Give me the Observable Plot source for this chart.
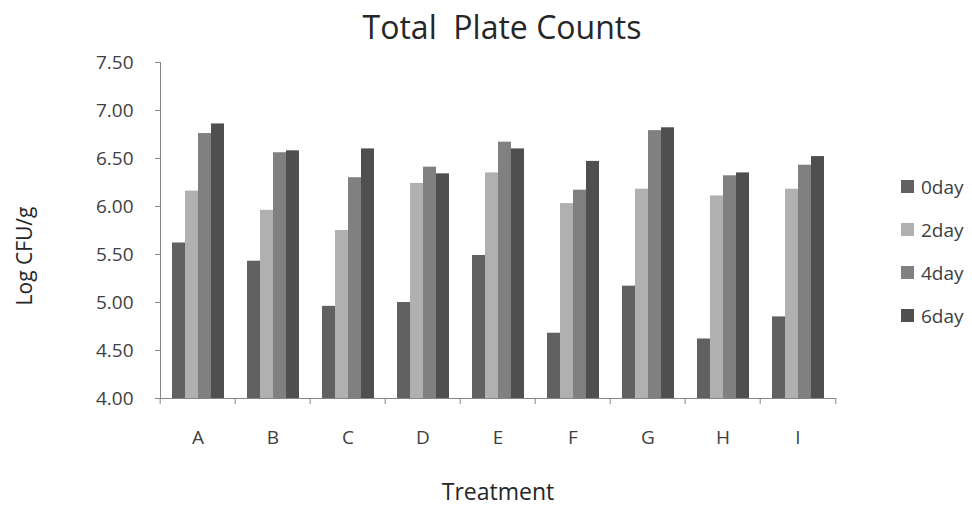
<!DOCTYPE html>
<html>
<head>
<meta charset="utf-8">
<script src="https://cdn.jsdelivr.net/npm/d3@7"></script>
<script src="https://cdn.jsdelivr.net/npm/@observablehq/plot@0.6"></script>
<style>
  html, body { margin: 0; padding: 0; background: #ffffff; }
  #chart { position: relative; width: 972px; height: 506px; font-family: "Open Sans", sans-serif; }
  #chart svg { position: absolute; left: 0; top: 0; }
  .title { position: absolute; left: 502px; top: 11px; transform: translateX(-50%); font-size: 32px; line-height: 32px; color: #262626; white-space: pre; }
  .xtitle { position: absolute; left: 498px; top: 480px; transform: translateX(-50%); font-size: 23px; line-height: 23px; color: #262626; white-space: pre; }
  .ytitle { position: absolute; left: 24px; top: 256px; transform: translate(-50%, -50%) rotate(-90deg); font-size: 21px; line-height: 21px; color: #262626; white-space: pre; }
  .legend { position: absolute; left: 901px; top: 165px; }
  .legend .row { display: flex; align-items: center; height: 43px; font-size: 19px; color: #404040; }
  .legend .swatch { width: 13px; height: 13px; margin-right: 7px; }
</style>
</head>
<body>
<div id="chart"></div>
<script>
// Treatments on the x axis and sampling days within each group
const treatments = ["A", "B", "C", "D", "E", "F", "G", "H", "I"];
const days = ["0day", "2day", "4day", "6day"];

// Log CFU/g per treatment, one list per sampling day
const day0 = [5.62, 5.43, 4.96, 5.00, 5.49, 4.68, 5.17, 4.62, 4.85];
const day2 = [6.16, 5.96, 5.75, 6.24, 6.35, 6.03, 6.18, 6.11, 6.18];
const day4 = [6.76, 6.56, 6.30, 6.41, 6.67, 6.17, 6.79, 6.32, 6.43];
const day6 = [6.86, 6.58, 6.60, 6.34, 6.60, 6.47, 6.82, 6.35, 6.52];

// Value axis ticks
const yTicks = [4.00, 4.50, 5.00, 5.50, 6.00, 6.50, 7.00, 7.50];

// Bar fills per day
const dayColors = ["#616161", "#b0b0b0", "#808080", "#4f4f4f"];

const series = [day0, day2, day4, day6];
const data = treatments.flatMap((t, i) =>
  days.map((d, j) => ({treatment: t, day: d, value: series[j][i]}))
);

const W = 972, H = 506;
const margin = {top: 62, right: 134, bottom: 108, left: 157};
const step = (W - margin.left - margin.right) / treatments.length;
const yBase = yTicks[0];
const axisColor = "#868686";
const textColor = "#404040";

const plot = Plot.plot({
  width: W,
  height: H,
  marginTop: margin.top,
  marginRight: margin.right,
  marginBottom: margin.bottom,
  marginLeft: margin.left,
  style: {fontFamily: "Open Sans, sans-serif", background: "transparent", overflow: "visible"},
  fx: {domain: treatments, padding: 0, label: null},
  x: {domain: days, paddingInner: 0, paddingOuter: 0.8, axis: null},
  y: {domain: [yTicks[0], yTicks[yTicks.length - 1]], label: null},
  color: {domain: days, range: dayColors},
  marks: [
    Plot.barY(data, {fx: "treatment", x: "day", y1: () => yBase, y2: "value", fill: "day"}),
    // category axis line and value axis line
    Plot.frame({anchor: "bottom", stroke: axisColor}),
    Plot.frame({anchor: "left", facetAnchor: "left", stroke: axisColor}),
    Plot.axisY({
      ticks: yTicks,
      tickFormat: d3.format(".2f"),
      tickSize: 5,
      tickPadding: 22,
      fontSize: 19,
      stroke: axisColor,
      fill: textColor,
      label: null
    }),
    // tick marks between the treatment groups
    Plot.axisFx({anchor: "bottom", tickSize: 6, tickFormat: () => "", dx: -step / 2, stroke: axisColor, label: null}),
    Plot.axisFx({anchor: "bottom", ticks: treatments.slice(-1), tickSize: 6, tickFormat: () => "", dx: step / 2, stroke: axisColor, label: null}),
    // treatment names
    Plot.axisFx({anchor: "bottom", tickSize: 0, tickPadding: 32, fontSize: 19, fill: textColor, label: null})
  ]
});

const chart = d3.select("#chart");
chart.node().appendChild(plot);

chart.append("div").attr("class", "title").text("Total  Plate Counts");
chart.append("div").attr("class", "xtitle").text("Treatment");
chart.append("div").attr("class", "ytitle").text("Log CFU/g");

const legend = chart.append("div").attr("class", "legend");
const rows = legend.selectAll("div.row").data(days).join("div").attr("class", "row");
rows.append("div").attr("class", "swatch").style("background", (d, i) => dayColors[i]);
rows.append("span").text(d => d);
</script>
</body>
</html>
